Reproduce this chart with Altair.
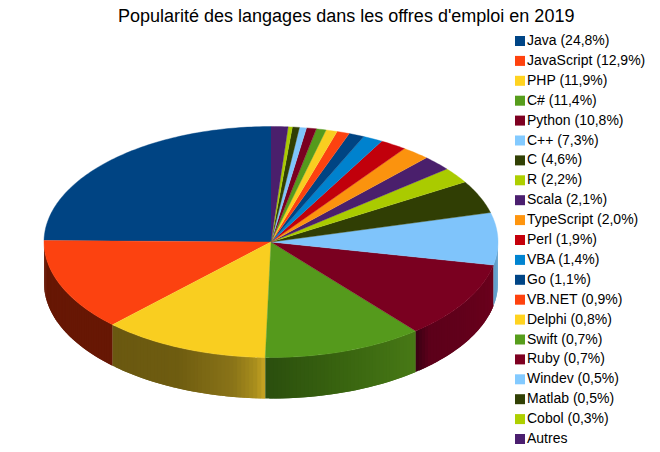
import math
import altair as alt
import pandas as pd

LABELS = ["Java (24,8%)", "JavaScript (12,9%)", "PHP (11,9%)", "C# (11,4%)", "Python (10,8%)",
          "C++ (7,3%)", "C (4,6%)", "R (2,2%)", "Scala (2,1%)", "TypeScript (2,0%)",
          "Perl (1,9%)", "VBA (1,4%)", "Go (1,1%)", "VB.NET (0,9%)", "Delphi (0,8%)",
          "Swift (0,7%)", "Ruby (0,7%)", "Windev (0,5%)", "Matlab (0,5%)", "Cobol (0,3%)", "Autres"]
VALUES = [24.8, 12.9, 11.9, 11.4, 10.8, 7.3, 4.6, 2.2, 2.1, 2.0, 1.9, 1.4, 1.1, 0.9, 0.8, 0.7, 0.7, 0.5, 0.5, 0.3, 1.2]
COLORS = ["#004586", "#ff420e", "#ffd320", "#579d1c", "#7e0021", "#83caff", "#314004", "#aecf00",
          "#4b1f6f", "#ff950e", "#c5000b", "#0084d1", "#004586", "#ff420e", "#ffd320", "#579d1c",
          "#7e0021", "#83caff", "#314004", "#aecf00", "#4b1f6f"]
PIE_COLORS = ["#004483", "#fc4210", "#f9ce20", "#559a1c", "#7a0020", "#7fc4fb", "#303e04", "#aacb00",
              "#4a1f6c", "#fb930e", "#c1000b", "#0082ce", "#004483", "#fc4210", "#f9ce20", "#559a1c",
              "#7a0020", "#7fc4fb", "#303e04", "#aacb00", "#4a1f6c"]
TITLE = "Popularité des langages dans les offres d'emploi en 2019"

# Shading of the visible side wall: per slice, (fraction along slice, colour)
WALL_STOPS = {
    1: [(0, "#671704"), (1, "#671704")],
    2: [(0, "#6a5810"), (0.45, "#6e5c10"), (0.8, "#8a7418"), (0.93, "#a98e1d"), (1, "#cfa924")],
    3: [(0, "#2b4f0e"), (0.4, "#37610f"), (1, "#487a16")],
    4: [(0, "#3d0014"), (0.1, "#5c001a"), (1, "#6b001c")],
    5: [(0, "#5f9dc8"), (1, "#70b0e0")],
}
DEPTH = 41 / 115.5


def mix(stops, f):
    for (f0, c0), (f1, c1) in zip(stops, stops[1:]):
        if f <= f1:
            u = 0 if f1 == f0 else (f - f0) / (f1 - f0)
            a = [int(c0[i:i + 2], 16) for i in (1, 3, 5)]
            b = [int(c1[i:i + 2], 16) for i in (1, 3, 5)]
            return "#%02x%02x%02x" % tuple(round(p + (q - p) * u) for p, q in zip(a, b))
    return stops[-1][1]


total = sum(VALUES)
top_rows, wall_rows = [], []
start = 90.0
for i, (lab, v) in enumerate(zip(LABELS, VALUES)):
    sweep = v / total * 360
    end = start + sweep
    n = max(2, int(sweep) + 1)
    pts = [(0.0, 0.0)] + [(math.cos(math.radians(start + sweep * k / n)),
                           math.sin(math.radians(start + sweep * k / n))) for k in range(n + 1)]
    for k, (x, y) in enumerate(pts):
        top_rows.append(dict(id=lab, k=k, x=x, y=y, label=lab))
    if i in WALL_STOPS:
        a0, a1 = max(start, 180), min(end, 360)
        m = max(1, int((a1 - a0)))
        for j in range(m):
            t0 = a0 + (a1 - a0) * j / m
            t1 = min(a1, a0 + (a1 - a0) * (j + 1) / m + 1.0)
            col = mix(WALL_STOPS[i], (t0 - start) / sweep)
            for t in (t0, t1):
                c, s = math.cos(math.radians(t)), math.sin(math.radians(t))
                wall_rows.append(dict(id=f"{i}-{j:03d}", x=c, y=s, yb=s - DEPTH, col=col))
    start = end

W, H = 644, 408
CX, CY, RX, RY = 263, 206, 227, 115.5
xs = alt.Scale(domain=[-CX / RX, (W - CX) / RX], range=[0, W], nice=False, zero=False)
ys = alt.Scale(domain=[-(H - CY) / RY, CY / RY], range=[H, 0], nice=False, zero=False)
X = alt.X("x:Q", scale=xs, axis=None)
Y = alt.Y("y:Q", scale=ys, axis=None)

walls = alt.Chart(pd.DataFrame(wall_rows)).mark_area(interpolate="linear", orient="vertical", opacity=1).encode(
    x=X, y=Y, y2="yb:Q", detail="id:N",
    fill=alt.Fill("col:N", scale=None, legend=None),
)
tops = alt.Chart(pd.DataFrame(top_rows)).mark_line(strokeWidth=0.4, interpolate="linear").encode(
    x=X, y=Y, order="k:Q", detail="id:N",
    fill=alt.Fill("label:N", sort=LABELS, scale=alt.Scale(domain=LABELS, range=PIE_COLORS), legend=None),
    stroke=alt.Stroke("label:N", sort=LABELS, scale=alt.Scale(domain=LABELS, range=PIE_COLORS), legend=None),
)
legend_df = pd.DataFrame({"label": LABELS, "x": [0.0] * len(LABELS), "y": [0.0] * len(LABELS)})
keys = alt.Chart(legend_df).mark_square(size=0, opacity=1).encode(
    x=X, y=Y,
    fill=alt.Fill("label:N", sort=LABELS, scale=alt.Scale(domain=LABELS, range=COLORS),
                  legend=alt.Legend(title=None, orient="none", legendX=505, legendY=-2, symbolType="square",
                                    symbolSize=100, symbolStrokeWidth=0, labelFont="Liberation Sans",
                                    labelFontSize=14, labelColor="#000000", labelLimit=200, rowPadding=5.9,
                                    labelOffset=0, columns=1, symbolOpacity=1)),
)
chart = (alt.layer(walls, tops, keys)
         .resolve_scale(fill="independent", stroke="independent")
         .properties(width=W, height=H,
                     title=alt.TitleParams(TITLE, font="Liberation Sans", fontSize=18, fontWeight="normal",
                                           color="#000000", anchor="start", frame="group", dx=110, dy=-4, offset=4),
                     padding={"left": 0, "top": 28, "right": 0, "bottom": 4},
                     autosize=alt.AutoSizeParams(type="none"))
         .configure_view(stroke=None))
chart.save("out.html", embed_options={"renderer": "svg", "actions": False})
